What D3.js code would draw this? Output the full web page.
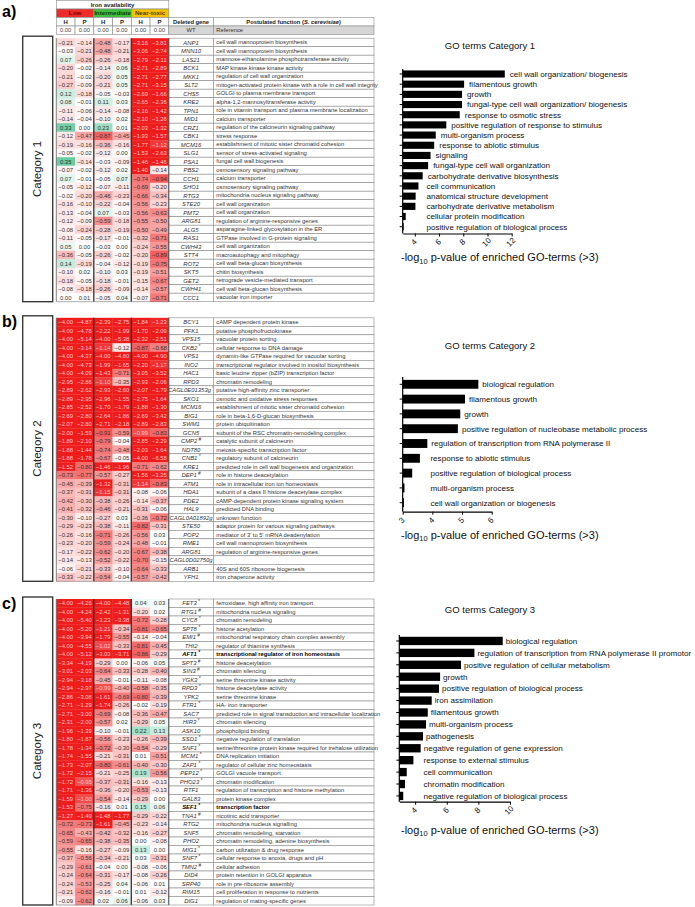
<!DOCTYPE html>
<html><head><meta charset="utf-8">
<script src="https://cdn.jsdelivr.net/npm/d3@7"></script>
<style>body{margin:0;background:#fff}svg{display:block;font-family:"Liberation Sans",Arial,sans-serif}</style>
</head><body><svg id="c" width="695" height="907"></svg>
<script>
// ---------- DATA ----------
const conditions = ["Low", "Intermediate", "Near-toxic"];
const subColumns = ["H", "P", "H", "P", "H", "P"];
const wtValues = [0, 0, 0, 0, 0, 0];

const genesA = ["ANP1","MNN10","LAS21","BCK1","MKK1","SLT2","CHS5","KRE2","TPN1","MID1","CRZ1","CBK1","MCM16","SLG1","PSA1","PBS2","CCH1","SHO1","RTG3","STE20","PMT2","ARG81","ALG5","RAS1","CWH43","STT4","ROT2","SKT5","GET2","CWH41","CCC1"];
const valuesA = [
 [-0.21,-0.14,-0.48,-0.17,-3.16,-3.81],[-0.03,-0.21,-0.48,-0.21,-3.06,-2.74],[0.07,-0.26,-0.26,-0.18,-2.79,-2.11],
 [-0.20,-0.02,-0.14,0.06,-2.71,-2.89],[-0.21,-0.02,-0.20,0.05,-2.71,-2.77],[-0.27,-0.09,-0.21,0.05,-2.71,-3.15],
 [0.12,-0.18,-0.05,-0.03,-2.69,-1.66],[0.08,-0.01,0.11,0.03,-2.65,-2.36],[-0.11,-0.06,-0.14,-0.08,-2.16,-1.42],
 [-0.14,-0.04,-0.10,0.02,-2.10,-1.26],[0.33,0.00,0.23,0.01,-2.03,-1.32],[-0.12,-0.47,-0.87,-0.45,-1.93,-1.57],
 [-0.19,-0.16,-0.36,-0.16,-1.77,-1.12],[-0.05,-0.02,-0.12,0.00,-1.53,-2.63],[0.35,-0.14,-0.03,-0.09,-1.46,-1.46],
 [-0.07,-0.02,-0.12,0.02,-1.40,-0.14],[0.07,-0.01,-0.05,0.07,-0.74,-0.94],[-0.05,-0.12,-0.07,-0.11,-0.69,-0.20],
 [-0.02,-0.20,-0.46,-0.23,-0.66,-0.34],[-0.16,-0.10,-0.22,-0.04,-0.56,-0.23],[-0.13,-0.04,0.07,-0.03,-0.56,-0.63],
 [-0.12,-0.09,-0.59,-0.18,-0.55,-0.50],[-0.08,-0.24,-0.28,-0.19,-0.50,-0.49],[-0.11,-0.05,-0.17,-0.01,-0.32,-0.71],
 [0.05,0.00,-0.03,0.00,-0.24,-0.55],[-0.36,-0.05,-0.26,-0.02,-0.20,-0.89],[0.14,-0.19,-0.04,-0.12,-0.19,-0.75],
 [-0.10,0.02,-0.10,0.03,-0.19,-0.51],[-0.18,-0.05,-0.18,-0.01,-0.15,-0.67],[-0.08,-0.18,-0.26,-0.09,-0.14,-0.57],
 [0.00,0.01,-0.05,0.04,-0.07,-0.71]];
const functionsA = ["cell wall mannoprotein biosynthesis","cell wall mannoprotein biosynthesis","mannose-ethanolamine phosphotransferase activity","MAP kinase kinase kinase activity","regulation of cell wall organization","mitogen-activated protein kinase with a role in cell wall integrity","GOLGI to plasma membrane transport","alpha-1,2-mannosyltransferase activity","role in vitamin transport and plasma membrane localization","calcium transporter","regulation of the calcineurin signaling pathway","stress response","establishment of mitotic sister chromatid cohesion","sensor of stress-activated signaling","fungal cell wall biogenesis","osmosensory signaling pathway","calcium transporter","osmosensory signaling pathway","mitochondria nucleus signaling pathway","cell wall organization","cell wall organization","regulation of arginine-responsive genes","asparagine-linked glycosylation in the ER","GTPase involved in G-protein signaling","cell wall organization","macroautophagy and mitophagy","cell wall beta-glucan biosynthesis","chitin biosynthesis","retrograde vesicle-mediated transport","cell wall beta-glucan biosynthesis","vacuolar iron importer"];

const genesB = ["BCY1","PFK1","VPS15","CKB2 *","VPS1","INO2","HAC1","RPD3","CAGL0E01353g *","SKO1","MCM16","BIG1","SWM1","GCN5","CMP2 #","NDT80","CNB1 *","KRE1","DEP1 #","ATM1","HDA1","PDE2","HAL9","CAGL0A01892g","STE50","POP2","RME1","ARG81","CAGL0D02750g","ARB1","YFH1"];
const valuesB = [
 [-4.00,-4.87,-2.39,-2.75,-1.84,-1.23],[-4.00,-4.78,-2.22,-1.99,-1.70,-2.09],[-4.00,-5.14,-4.00,-5.38,-2.32,-2.51],
 [-4.00,-3.14,-1.14,-0.12,-0.87,-0.68],[-4.00,-4.37,-4.00,-4.80,-4.00,-4.90],[-4.00,-4.73,-1.99,-1.65,-2.20,-1.17],
 [-4.00,-4.09,-1.43,-0.71,-3.05,-3.52],[-2.95,-2.86,-1.10,-0.35,-2.93,-2.06],[-2.89,-2.62,-2.93,-2.60,-2.07,-1.79],
 [-2.89,-2.95,-2.96,-1.55,-2.75,-1.64],[-2.85,-2.52,-1.70,-1.79,-1.88,-1.30],[-2.69,-2.80,-2.64,-1.86,-2.69,-3.42],
 [-2.07,-2.80,-2.71,-2.18,-2.89,-2.83],[-2.00,-1.59,-0.91,-0.59,-0.99,-0.83],[-1.89,-2.10,-0.79,-0.04,-2.85,-2.29],
 [-1.88,-1.44,-0.74,-0.48,-2.03,-1.64],[-1.88,-1.78,-0.67,-0.05,-4.00,-6.58],[-1.52,-0.80,-1.46,-1.96,-0.71,-0.62],
 [-0.73,-0.77,-0.57,-0.27,-1.56,-1.25],[-0.45,-0.39,-1.32,-0.31,-1.14,-0.83],[-0.37,-0.31,-1.15,-0.31,-0.08,-0.06],
 [-0.42,-0.30,-0.38,-0.26,-0.14,-0.37],[-0.41,-0.32,-0.46,-0.21,-0.31,-0.06],[-0.30,-0.10,-0.27,0.03,-0.36,-0.72],
 [-0.29,-0.23,-0.38,-0.11,-0.82,-0.31],[-0.26,-0.16,-0.71,-0.26,-0.56,0.03],[-0.23,-0.20,-0.59,-0.24,-0.48,-0.01],
 [-0.17,-0.22,-0.62,-0.20,-0.67,-0.38],[-0.14,-0.13,-0.52,-0.22,-0.70,-0.15],[-0.06,-0.21,-0.33,-0.10,-0.64,-0.33],
 [-0.33,-0.22,-0.54,-0.04,-0.57,-0.42]];
const functionsB = ["cAMP dependent protein kinase","putative phosphofructokinase","vacuolar protein sorting","cellular response to DNA damage","dynamin-like GTPase required for vacuolar sorting","transcriptional regulator involved in inositol biosynthesis","basic leucine zipper (bZIP) transcription factor","chromatin remodeling","putative high-affinity zinc transporter","osmotic and oxidative stress responses","establishment of mitotic sister chromatid cohesion","role in beta-1,6-D-glucan biosynthesis","protein ubiquitination","subunit of the RSC chromatin-remodeling complex","catalytic subunit of calcineurin","meiosis-specific transcription factor","regulatory subunit of calcineurin","predicted role in cell wall biogenesis and organization","role in histone deacetylation","role in intracellular iron ion homeostasis","subunit of a class II histone deacetylase complex","cAMP-dependent protein kinase signaling system","predicted DNA binding","unknown function","adaptor protein for various signaling pathways","mediator of 3' to 5' mRNA deadenylation","cell wall mannoprotein biosynthesis","regulation of arginine-responsive genes","","40S and 60S ribosome biogenesis","iron chaperone activity"];

const genesC = ["FET3 *","RTG1 #","CYC8 *","SPT8 *","EMI1 #","THI2","AFT1 *","SPT3 #","SIN3 #","YGK3 *","RPD3 *","YPK2","FTR1 *","SAC7","HIR3 *","ASK10","SSD1 *","SNF1 *","MCM1 *","ZAP1 *","PEP12 *","PHO23 *","RTF1","GAL83","SEF1 *","TNA1 #","RTG2","SNF5","PHO2","MIG1 *","SNF7 *","TMN2 #","DID4","SRP40","RIM15","DIG1"];
const boldGenesC = ["AFT1", "SEF1"];
const valuesC = [
 [-4.00,-4.26,-4.00,-4.48,0.04,0.03],[-4.00,-4.24,-2.42,-1.31,-0.20,0.02],[-4.00,-5.40,-3.23,-3.38,-0.72,-0.28],
 [-4.00,-5.20,-1.21,-0.34,-0.81,-0.65],[-4.00,-3.94,-1.79,-0.55,-0.14,-0.04],[-4.00,-4.55,-1.02,-0.33,-0.81,-0.45],
 [-4.00,-5.12,-3.03,-3.71,-0.86,-0.29],[-3.34,-4.19,-0.29,0.00,-0.06,0.05],[-3.01,-2.03,-0.64,-0.33,-0.28,-0.40],
 [-2.94,-3.18,-0.45,-0.01,-0.11,-0.08],[-2.94,-2.97,-0.99,-0.40,-0.58,-0.35],[-2.86,-3.08,-1.61,-0.69,-0.80,-0.39],
 [-2.71,-1.29,-1.74,-0.26,-0.02,-0.19],[-2.71,-3.00,-0.69,-0.08,-0.36,-0.47],[-2.31,-2.00,-0.57,0.02,-0.29,0.05],
 [-1.96,-1.39,-0.10,-0.01,0.22,0.13],[-1.80,-1.87,-0.56,-0.23,-0.26,-0.39],[-1.78,-1.34,-0.72,-0.30,-0.54,-0.29],
 [-1.74,-1.55,-0.21,-0.31,0.01,-0.51],[-1.73,-2.07,-0.80,-0.61,-0.40,-0.30],[-1.72,-2.15,-0.21,-0.25,0.19,-0.56],
 [-1.72,-0.95,-0.37,-0.31,-0.16,-0.13],[-1.71,-1.36,-0.36,-0.20,-0.53,-0.13],[-1.59,-1.00,-0.54,-0.14,-0.29,0.00],
 [-1.53,-0.75,-0.16,0.01,0.15,0.06],[-1.27,-1.49,-1.48,-1.77,-0.29,-0.22],[-0.72,-0.73,-1.61,-0.45,-0.23,-0.14],
 [-0.65,-0.43,-0.42,-0.32,-0.16,-0.27],[-0.59,-0.65,-0.38,-0.35,0.00,-0.08],[-0.55,-0.16,-0.27,-0.09,0.13,0.00],
 [-0.37,-0.56,-0.34,-0.21,0.03,-0.31],[-0.29,-0.61,-0.04,0.00,-0.08,-0.06],[-0.24,-0.64,-0.31,-0.17,-0.08,-0.26],
 [-0.24,-0.53,-0.25,0.04,-0.06,0.01],[-0.21,-0.62,-0.16,-0.01,0.01,-0.12],[-0.09,-0.62,0.02,0.06,-0.06,0.03]];
const functionsC = ["ferroxidase, high affinity iron transport","mitochondria nucleus signaling","chromatin remodeling","histone acetylation","mitochondrial respiratory chain complex assembly","regulator of thiamine synthesis","transcriptional regulator of iron homeostasis","histone deacetylation","chromatin silencing","serine threonine kinase activity","histone deacetylase activity","serine threonine kinase","HA- iron transporter","predicted role in signal transduction and intracellular localization","chromatin silencing","phospholipid binding","negative regulation of translation","serine/threonine protein kinase required for trehalose utilization","DNA replication initiation","regulator of cellular zinc homeostasis","GOLGI vacuole transport","chromatin modification","regulation of transcription and histone methylation","protein kinase complex","transcription factor","nicotinic acid transporter","mitochondria nucleus signalling","chromatin remodeling, starvation","chromatin remodeling, adenine biosynthesis","carbon utilization & drug response","cellular response to anoxia, drugs and pH","cellular adhesion","protein retention in GOLGI apparatus","role in pre-ribosome assembly","cell proliferation in response to nutrients","regulation of mating-specific genes"];

const goTermsA = ["cell wall organization/ biogenesis","filamentous growth","growth","fungal-type cell wall organization/ biogenesis","response to osmotic stress","positive regulation of response to stimulus","multi-organism process","response to abiotic stimulus","signaling","fungal-type cell wall organization","carbohydrate derivative biosynthesis","cell communication","anatomical structure development","carbohydrate derivative metabolism","cellular protein modification","positive regulation of biological process"];
const goValuesA = [11.43,8.07,7.9,7.9,7.71,6.6,5.73,5.6,5.3,5.1,4.65,4.3,4.07,4.05,3.25,3.08];
const goTicksA = [4,6,8,10,12];

const goTermsB = ["biological regulation","filamentous growth","growth","positive regulation of nucleobase metabolic process","regulation of transcription from RNA polymerase II","response to abiotic stimulus","positive regulation of biological process","multi-organism process","cell wall organization or biogenesis"];
const goValuesB = [5.55,5.1,4.94,4.86,3.83,3.58,3.32,3.06,3.04];
const goTicksB = [3,4,5,6];

const goTermsC = ["biological regulation","regulation of transcription from RNA polymerase II promotor","positive regulation of cellular metabolism","growth","positive regulation of biological process","iron assimilation","filamentous growth","multi-organism process","pathogenesis","negative regulation of gene expression","response to external stimulus","cell communication","chromatin modification","negative regulation of biological process"];
const goValuesC = [9.54,7.75,6.9,5.58,5.51,5.05,4.8,4.69,4.5,4.35,3.89,3.47,3.36,3.25];
const goTicksC = [4,6,8,10];

// ---------- LAYOUT ----------
const svg = d3.select("#c");
const rowH = 8.5;
const x0 = 56.3, colW = 18.75;
const geneX0 = x0 + 6 * colW, geneX1 = 213.3, funcX1 = 374;
const fmt = d3.format(".2f");
const cellColor = d3.scaleLinear().domain([-1.3, -0.65, 0, 0.4])
  .range(["#ef1c1c", "#f48484", "#ffffff", "#55c597"]).clamp(true);
const textColor = v => v <= -0.95 ? "#ffc4c4" : "#333";
const colX = d3.scaleLinear().domain([0, 6]).range([x0, x0 + 6 * colW]);
const gridStroke = "#8a8a8a";

function geneText(sel, label, bold) {
  const m = label.match(/^(.*?)(?: ([*#]))?$/);
  sel.append("tspan").text(m[1]);
  if (m[2]) sel.append("tspan").attr("font-size", 4.6).attr("dy", -2).text(" " + m[2]);
}

// ---------- HEADER ----------
const hdr = svg.append("g");
hdr.append("rect").attr("x", x0).attr("y", 0.5).attr("width", 6 * colW).attr("height", rowH)
  .attr("fill", "#fff").attr("stroke", gridStroke).attr("stroke-width", 0.6);
hdr.append("text").attr("x", x0 + 3 * colW).attr("y", 0.5 + rowH / 2).attr("dy", "0.35em")
  .attr("text-anchor", "middle").attr("font-size", 6).attr("font-weight", "bold").attr("fill", "#222").text("Iron availability");
const condFill = ["#ee2b2b", "#3fbf3f", "#f3c300"];
const condText = ["#7a0000", "#0d3d0d", "#5a3d00"];
conditions.forEach((c, k) => {
  hdr.append("rect").attr("x", colX(2 * k)).attr("y", 9).attr("width", 2 * colW).attr("height", rowH)
    .attr("fill", condFill[k]).attr("stroke", gridStroke).attr("stroke-width", 0.6);
  hdr.append("text").attr("x", colX(2 * k) + colW).attr("y", 9 + rowH / 2).attr("dy", "0.35em")
    .attr("text-anchor", "middle").attr("font-size", 6.2).attr("font-weight", "bold").attr("fill", condText[k]).text(c);
});
subColumns.forEach((s, j) => {
  hdr.append("rect").attr("x", colX(j)).attr("y", 17.5).attr("width", colW).attr("height", rowH)
    .attr("fill", "#fff").attr("stroke", gridStroke).attr("stroke-width", 0.6);
  hdr.append("text").attr("x", colX(j) + colW / 2).attr("y", 17.5 + rowH / 2).attr("dy", "0.35em")
    .attr("text-anchor", "middle").attr("font-size", 6).attr("font-weight", "bold").attr("fill", "#222").text(s);
  hdr.append("rect").attr("x", colX(j)).attr("y", 26).attr("width", colW).attr("height", rowH)
    .attr("fill", "#fff").attr("stroke", gridStroke).attr("stroke-width", 0.6);
  hdr.append("text").attr("x", colX(j) + colW / 2).attr("y", 26 + rowH / 2).attr("dy", "0.35em")
    .attr("text-anchor", "middle").attr("font-size", 5.8).attr("fill", "#444").text(fmt(wtValues[j]));
});
hdr.append("rect").attr("x", geneX0).attr("y", 17.5).attr("width", geneX1 - geneX0).attr("height", rowH)
  .attr("fill", "#fff").attr("stroke", gridStroke).attr("stroke-width", 0.6);
hdr.append("text").attr("x", (geneX0 + geneX1) / 2).attr("y", 17.5 + rowH / 2).attr("dy", "0.35em")
  .attr("text-anchor", "middle").attr("font-size", 5.8).attr("font-weight", "bold").attr("fill", "#222").text("Deleted gene");
hdr.append("rect").attr("x", geneX1).attr("y", 17.5).attr("width", funcX1 - geneX1).attr("height", rowH)
  .attr("fill", "#fff").attr("stroke", gridStroke).attr("stroke-width", 0.6);
const pf = hdr.append("text").attr("x", (geneX1 + funcX1) / 2).attr("y", 17.5 + rowH / 2).attr("dy", "0.35em")
  .attr("text-anchor", "middle").attr("font-size", 5.8).attr("font-weight", "bold").attr("fill", "#222");
pf.append("tspan").text("Postulated function (");
pf.append("tspan").attr("font-style", "italic").text("S. cerevisiae");
pf.append("tspan").text(")");
hdr.append("rect").attr("x", geneX0).attr("y", 26).attr("width", geneX1 - geneX0).attr("height", rowH)
  .attr("fill", "#d6d6d6").attr("stroke", gridStroke).attr("stroke-width", 0.6);
hdr.append("text").attr("x", (geneX0 + geneX1) / 2).attr("y", 26 + rowH / 2).attr("dy", "0.35em")
  .attr("text-anchor", "middle").attr("font-size", 5.8).attr("fill", "#333").text("WT");
hdr.append("rect").attr("x", geneX1).attr("y", 26).attr("width", funcX1 - geneX1).attr("height", rowH)
  .attr("fill", "#d6d6d6").attr("stroke", gridStroke).attr("stroke-width", 0.6);
hdr.append("text").attr("x", geneX1 + 3).attr("y", 26 + rowH / 2).attr("dy", "0.35em")
  .attr("font-size", 5.8).attr("fill", "#333").text("Reference");

// ---------- TABLE PANELS ----------
function drawTable(label, catName, genes, values, funcs, top, bolds) {
  const g = svg.append("g");
  const n = genes.length;
  const yRow = d3.scaleLinear().domain([0, n]).range([top, top + n * rowH]);
  const rows = g.selectAll("g.row").data(values).join("g").attr("class", "row")
    .attr("transform", (d, i) => `translate(0,${yRow(i)})`);
  rows.selectAll("rect.cell").data(d => d).join("rect").attr("class", "cell")
    .attr("x", (d, j) => colX(j)).attr("y", 0).attr("width", colW + 0.3).attr("height", rowH + 0.3)
    .attr("fill", d => cellColor(d));
  rows.selectAll("text.val").data(d => d).join("text").attr("class", "val")
    .attr("x", (d, j) => colX(j) + colW / 2).attr("y", rowH / 2).attr("dy", "0.35em")
    .attr("text-anchor", "middle").attr("font-size", 5.9).attr("fill", d => textColor(d)).text(d => fmt(d));
  // gene + function cells
  genes.forEach((gn, i) => {
    const yy = yRow(i);
    const name = gn.replace(/ [*#]$/, "");
    const isBold = bolds && bolds.includes(name);
    g.append("rect").attr("x", geneX0).attr("y", yy).attr("width", geneX1 - geneX0).attr("height", rowH)
      .attr("fill", "#fff").attr("stroke", gridStroke).attr("stroke-width", 0.6);
    const t = g.append("text").attr("x", (geneX0 + geneX1) / 2).attr("y", yy + rowH / 2).attr("dy", "0.35em")
      .attr("text-anchor", "middle").attr("font-size", 5.9).attr("font-style", "italic")
      .attr("font-weight", isBold ? "bold" : "normal").attr("fill", isBold ? "#000" : "#333");
    geneText(t, gn);
    g.append("rect").attr("x", geneX1).attr("y", yy).attr("width", funcX1 - geneX1).attr("height", rowH)
      .attr("fill", "#fff").attr("stroke", gridStroke).attr("stroke-width", 0.6);
    g.append("text").attr("x", geneX1 + 3).attr("y", yy + rowH / 2).attr("dy", "0.35em")
      .attr("font-size", 5.8).attr("font-weight", isBold ? "bold" : "normal").attr("fill", isBold ? "#000" : "#333")
      .text(funcs[i]);
  });
  // group separators
  [0, 2, 4, 6].forEach(k => {
    g.append("line").attr("x1", colX(k)).attr("x2", colX(k)).attr("y1", top).attr("y2", top + n * rowH)
      .attr("stroke", k === 0 ? "#666" : "#333").attr("stroke-width", k === 0 || k === 6 ? 0.8 : 1.3);
  });
  g.append("line").attr("x1", x0).attr("x2", geneX0).attr("y1", top + n * rowH).attr("y2", top + n * rowH)
    .attr("stroke", "#777").attr("stroke-width", 0.6);
  // category box
  const boxTop = top - 2, boxBot = top + n * rowH;
  g.append("rect").attr("x", 22.7).attr("y", boxTop).attr("width", 30).attr("height", boxBot - boxTop)
    .attr("fill", "none").attr("stroke", "#3a3a3a").attr("stroke-width", 1.4);
  g.append("text").attr("transform", `translate(41,${(boxTop + boxBot) / 2}) rotate(-90)`)
    .attr("text-anchor", "middle").attr("font-size", 11.5).attr("fill", "#222").text(catName);
  // panel label
  g.append("text").attr("x", 2).attr("y", label === "a)" ? 17 : top + 9.5)
    .attr("font-size", 16).attr("font-weight", "bold").attr("fill", "#000").text(label);
}

drawTable("a)", "Category 1", genesA, valuesA, functionsA, 38.2, null);
drawTable("b)", "Category 2", genesB, valuesB, functionsB, 317.8, null);
drawTable("c)", "Category 3", genesC, valuesC, functionsC, 599.0, boldGenesC);

// ---------- GO BAR CHARTS ----------
function drawGO(cfg) {
  const g = svg.append("g");
  const x = d3.scaleLinear().domain(cfg.xDomain).range(cfg.xRange);
  const y = d3.scaleBand().domain(cfg.terms).range(cfg.band).paddingInner(cfg.pad).paddingOuter(cfg.pad / 2);
  g.append("text").attr("x", 490).attr("y", cfg.titleY).attr("text-anchor", "middle")
    .attr("font-size", 9.5).attr("fill", "#111").text(cfg.title);
  g.selectAll("rect.bar").data(cfg.terms).join("rect").attr("class", "bar")
    .attr("x", x(cfg.xDomain[0])).attr("y", d => y(d))
    .attr("width", (d, i) => x(cfg.values[i]) - x(cfg.xDomain[0])).attr("height", y.bandwidth())
    .attr("fill", "#000");
  g.selectAll("text.lab").data(cfg.terms).join("text").attr("class", "lab")
    .attr("x", (d, i) => Math.max(x(cfg.values[i]), x(cfg.labelMin)) + cfg.gap)
    .attr("y", d => y(d) + y.bandwidth() / 2).attr("dy", "0.35em")
    .attr("font-size", 8.1).attr("fill", "#111").text(d => d);
  // y axis
  const ya = g.append("g").attr("transform", `translate(${x(cfg.xDomain[0])},0)`)
    .call(d3.axisLeft(y).tickSize(3).tickSizeOuter(0).tickFormat(""));
  ya.select(".domain").remove();
  ya.selectAll("line").attr("stroke", "#000").attr("stroke-width", 1);
  g.append("line").attr("x1", x(cfg.xDomain[0])).attr("x2", x(cfg.xDomain[0]))
    .attr("y1", cfg.band[0]).attr("y2", cfg.axisY).attr("stroke", "#000").attr("stroke-width", 1.2);
  // x axis
  const xa = g.append("g").attr("transform", `translate(0,${cfg.axisY})`)
    .call(d3.axisBottom(x).tickValues(cfg.ticks).tickSize(3).tickSizeOuter(0).tickFormat(d3.format("d")));
  xa.select(".domain").attr("stroke", "#000").attr("stroke-width", 1.2);
  xa.selectAll("line").attr("stroke", "#000").attr("stroke-width", 1);
  xa.selectAll("text").attr("y", 0).attr("dy", 0)
    .attr("transform", "translate(-1,9) rotate(-45)").attr("text-anchor", "middle")
    .attr("dominant-baseline", "middle").attr("font-size", 8).attr("fill", "#111")
    .attr("font-family", "Liberation Sans, Arial, sans-serif");
  // axis title
  const at = g.append("text").attr("x", 401).attr("y", cfg.axisTitleY).attr("font-size", 11).attr("fill", "#111");
  at.append("tspan").text("-log");
  at.append("tspan").attr("font-size", 7.5).attr("dy", 2.5).text("10");
  at.append("tspan").attr("dy", -2.5).text(" p-value of enriched GO-terms (>3)");
}

drawGO({title: "GO terms Category 1", titleY: 48.5, terms: goTermsA, values: goValuesA,
  band: [68.9, 231.8], pad: 0.3, axisY: 233.5, xDomain: [3, 12], xRange: [402.7, 511.7],
  ticks: goTicksA, labelMin: 4.55, gap: 5, axisTitleY: 261});
drawGO({title: "GO terms Category 2", titleY: 348.5, terms: goTermsB, values: goValuesB,
  band: [376.9, 510.1], pad: 0.4, axisY: 511.7, xDomain: [3, 6], xRange: [402.7, 491.7],
  ticks: goTicksB, labelMin: 3.8, gap: 4, axisTitleY: 538.5});
drawGO({title: "GO terms Category 3", titleY: 612.8, terms: goTermsC, values: goValuesC,
  band: [635.0, 801.9], pad: 0.3, axisY: 801.7, xDomain: [3, 10], xRange: [399.3, 510],
  ticks: goTicksC, labelMin: 4.34, gap: 3, axisTitleY: 833.5});
</script>
</body></html>
